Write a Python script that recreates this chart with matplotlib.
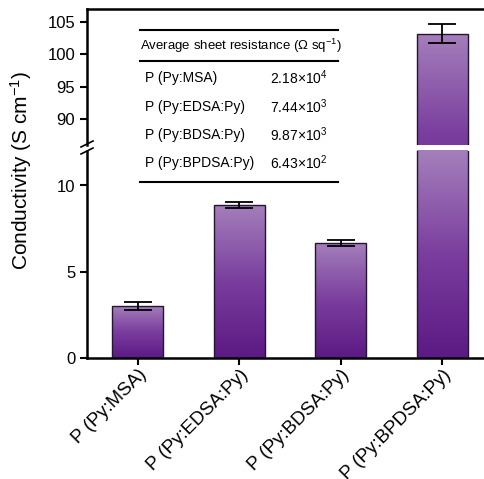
import numpy as np
import matplotlib
matplotlib.use("Agg")
import matplotlib.pyplot as plt
from matplotlib.colors import LinearSegmentedColormap
from matplotlib.lines import Line2D

plt.rcParams['font.family'] = ['Liberation Sans', 'DejaVu Sans']
plt.rcParams['mathtext.fontset'] = 'custom'
plt.rcParams['mathtext.rm'] = 'Liberation Sans'
plt.rcParams['mathtext.it'] = 'Liberation Sans:italic'
plt.rcParams['mathtext.bf'] = 'Liberation Sans:bold'

# ---- data ----
categories = ['P (Py:MSA)', 'P (Py:EDSA:Py)', 'P (Py:BDSA:Py)', 'P (Py:BPDSA:Py)']
conductivity = [3.02, 8.89, 6.69, 103.2]
errors = [0.25, 0.17, 0.17, 1.5]
table_names = ['P (Py:MSA)', 'P (Py:EDSA:Py)', 'P (Py:BDSA:Py)', 'P (Py:BPDSA:Py)']
table_values = ['2.18×10$^{4}$', '7.44×10$^{3}$', '9.87×10$^{3}$', '6.43×10$^{2}$']
table_header = 'Average sheet resistance (Ω sq$^{-1}$)'
lower_ticks = [0, 5, 10]
upper_ticks = [90, 95, 100, 105]

W, H = 484, 479
fig = plt.figure(figsize=(W / 100, H / 100), dpi=100)

def fx(px):
    return px / W

def fy(py):
    return 1 - py / H

left, right = fx(87), 1.0
ax_lo = fig.add_axes([left, fy(358), right - left, fy(151) - fy(358)])
ax_hi = fig.add_axes([left, fy(145), right - left, fy(9) - fy(145)])

cmap = LinearSegmentedColormap.from_list('pur', ['#5c1a84', '#7a3e9e', '#a47fbb'])
x = np.arange(len(categories))

for ax, ylim, span in [(ax_lo, (0, 12), (0.0, 1.0)), (ax_hi, (86, 107), (0.45, 1.0))]:
    bars = ax.bar(x, conductivity, width=0.5, color='none', edgecolor='#241530',
                  linewidth=1.0, zorder=3)
    ax.set_ylim(*ylim)
    ax.set_xlim(-0.5, 3.41)
    for b in bars:
        x0 = b.get_x()
        x1 = x0 + b.get_width()
        y0 = max(b.get_y(), ylim[0])
        y1 = min(b.get_y() + b.get_height(), ylim[1])
        if y1 <= y0:
            continue
        grad = np.linspace(span[1], span[0], 100).reshape(-1, 1)
        im = ax.imshow(grad, extent=[x0, x1, y0, y1], cmap=cmap, vmin=0, vmax=1,
                       aspect='auto', origin='upper', zorder=2)
        im.set_clip_path(b)
    ax.errorbar(x, conductivity, yerr=errors, fmt='none', ecolor='black',
                elinewidth=1.3, capsize=10, capthick=1.3, zorder=4)
    ax.set_xlim(-0.5, 3.41)
    ax.set_ylim(*ylim)
    ax.spines['right'].set_visible(False)
    for s in ax.spines.values():
        s.set_linewidth(1.8)
    ax.tick_params(axis='both', width=1.5, length=5, labelsize=12, direction='out')

ax_lo.set_yticks(lower_ticks)
ax_hi.set_yticks(upper_ticks)
ax_lo.spines['top'].set_visible(False)
ax_hi.spines['bottom'].set_visible(False)
ax_hi.set_xticks([])
ax_lo.set_xticks(x)
ax_lo.tick_params(axis='x', pad=1)
ax_lo.set_xticklabels(categories, rotation=45, ha='right', va='top',
                      rotation_mode='anchor', fontsize=13.5)

# break marks on the y axis
for yb in (144, 151):
    fig.add_artist(Line2D([fx(81), fx(93)], [fy(yb + 3), fy(yb - 3)],
                          transform=fig.transFigure, color='black', lw=1.2))

fig.text(fx(21), fy(170), 'Conductivity (S cm$^{-1}$)', rotation=90,
         ha='center', va='center', fontsize=15)

# inset table
tl, tr = fx(140), fx(338)
for yl in (30, 61, 182):
    fig.add_artist(Line2D([tl, tr], [fy(yl), fy(yl)], transform=fig.transFigure,
                          color='black', lw=1.5))
fig.text(fx(140), fy(46), table_header, ha='left', va='center', fontsize=9.5)
for i, (nm, val) in enumerate(zip(table_names, table_values)):
    yy = [78, 107, 135, 163][i]
    fig.text(fx(145), fy(yy), nm, ha='left', va='center', fontsize=10)
    fig.text(fx(270), fy(yy), val, ha='left', va='center', fontsize=10)

fig.savefig('out.png', dpi=100)
